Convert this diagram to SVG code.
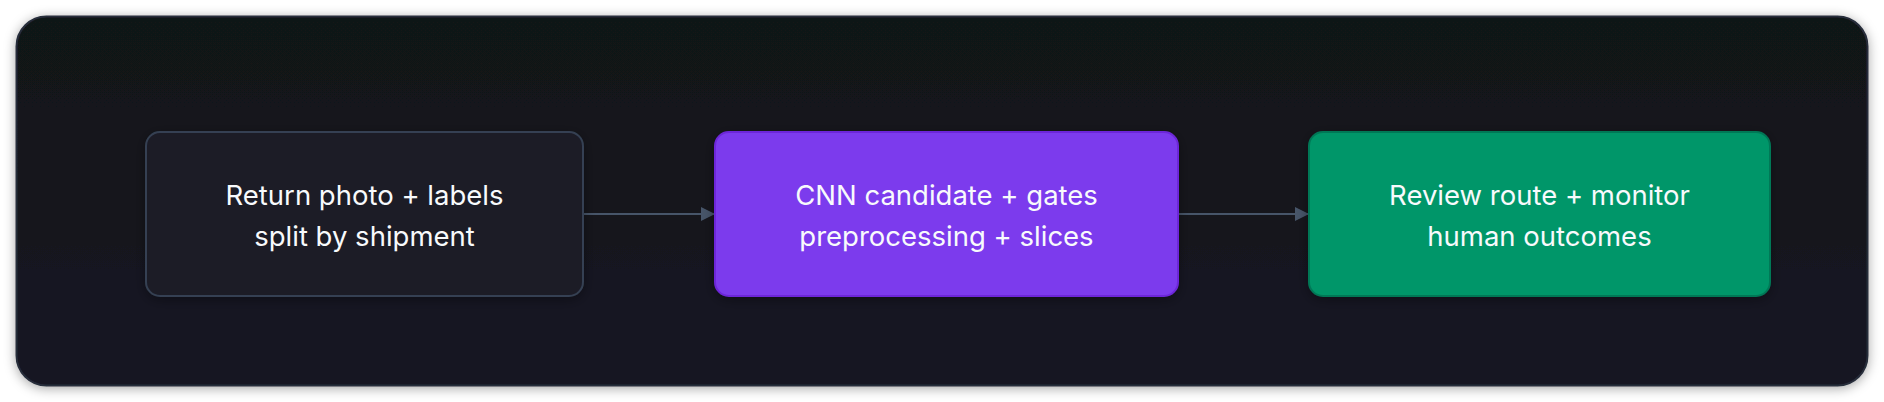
<svg xmlns="http://www.w3.org/2000/svg" width="1884" height="402" viewBox="0 0 1884 402">
  <defs>
    <linearGradient id="bg" x1="0" y1="0" x2="0" y2="1">
      <stop offset="0" stop-color="#111217"/>
      <stop offset="1" stop-color="#151624"/>
    </linearGradient>
    <filter id="shadow" x="-5%" y="-20%" width="110%" height="140%">
      <feDropShadow dx="0" dy="2" stdDeviation="6" flood-color="#000" flood-opacity="0.35"/>
    </filter>
    <filter id="nshadow" x="-10%" y="-20%" width="120%" height="140%">
      <feDropShadow dx="0" dy="3" stdDeviation="6" flood-color="#000" flood-opacity="0.35"/>
    </filter>
    <marker id="arrow" viewBox="0 0 10 10" refX="10" refY="5" markerWidth="15" markerHeight="14" markerUnits="userSpaceOnUse" orient="auto">
      <path d="M0,0 L10,5 L0,10 z" fill="#475569"/>
    </marker>
    <style>
      .label { font-family: Inter, "Liberation Sans", sans-serif; font-size: 27.5px; fill: #f8fafc; text-anchor: middle; }
      .edge { stroke: #475569; stroke-width: 2; fill: none; }
    </style>
  </defs>
  <rect width="1884" height="402" fill="#ffffff"/>
  <rect x="16.5" y="16.5" width="1851" height="369" rx="30" fill="url(#bg)" stroke="#282d3a" stroke-width="2" filter="url(#shadow)"/>

  <g id="connectors">
    <line class="edge" x1="583" y1="214" x2="715" y2="214" marker-end="url(#arrow)"/>
    <line class="edge" x1="1178" y1="214" x2="1309" y2="214" marker-end="url(#arrow)"/>
  </g>

  <g id="node-return">
    <rect x="146" y="132" width="437" height="164" rx="14" fill="#1c1c28" stroke="#354152" stroke-width="2" filter="url(#nshadow)"/>
    <text class="label" x="364.5" y="205">Return photo + labels</text>
    <text class="label" x="364.5" y="246">split by shipment</text>
  </g>

  <g id="node-cnn">
    <rect x="715" y="132" width="463" height="164" rx="14" fill="#7c3aed" stroke="#6d28d9" stroke-width="2" filter="url(#nshadow)"/>
    <text class="label" x="946.5" y="205">CNN candidate + gates</text>
    <text class="label" x="946.5" y="246">preprocessing + slices</text>
  </g>

  <g id="node-review">
    <rect x="1309" y="132" width="461" height="164" rx="14" fill="#059669" stroke="#047857" stroke-width="2" filter="url(#nshadow)"/>
    <text class="label" x="1539.5" y="205">Review route + monitor</text>
    <text class="label" x="1539.5" y="246">human outcomes</text>
  </g>
</svg>
